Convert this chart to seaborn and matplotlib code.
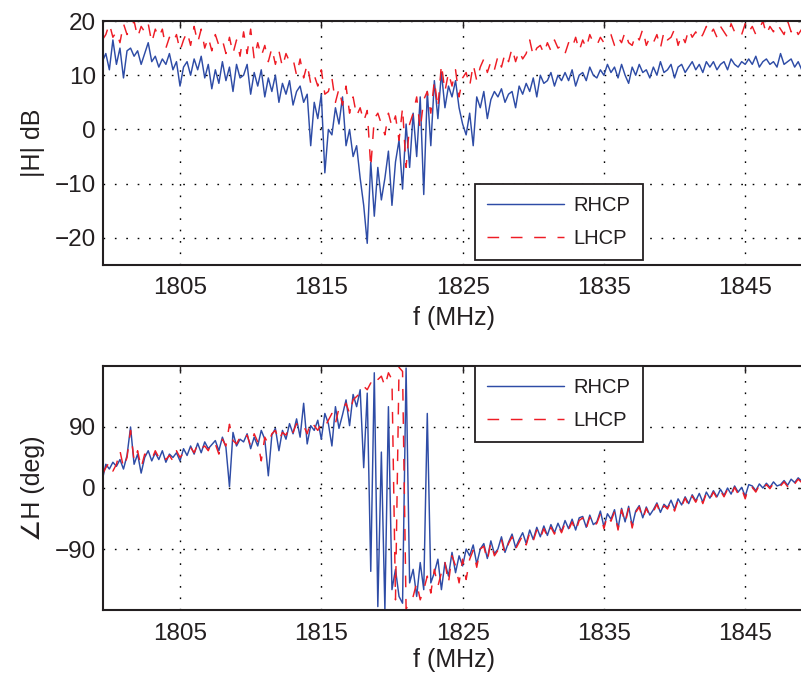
import numpy as np
import pandas as pd
import matplotlib
matplotlib.use("Agg")
import matplotlib.pyplot as plt
import seaborn as sns

# ---------------- data ----------------
f_start = 1799.5
f_step = 0.25

rhcp_mag = [
    12.5, 14, 11, 16.5,   12, 15, 9.5, 14.5,   15, 13.5, 14.5, 12,   14, 16, 12.5, 13.5,
    11.5, 13, 12, 14,     11, 12.5, 8, 11.5,   12.5, 10, 13, 11,     13.5, 9.5, 12, 7.5,
    11, 8.5, 12.5, 9,     11.5, 7, 12, 9.5,    10, 12, 6.5, 10.5,    8, 11, 6, 9.5,
    7, 10, 5, 8.5,        6.5, 9, 4.5, 7,      8, 5, 6.5, -3,        5, 2, 6.5, -8,
    0, -1, 4, 1,          6, -3, 0, -5,        -3, -9, -14, -21,     -6, -16, -7, -13,
    -9, -4, -14, -6,      -2, -11, 1, -7,      3, -5, 6, -12,        7, -3, 9, 2,
    10.5, 4, 8, 6,        9, 4, 1, -1,         3, -3, 6, 4,          7, 2, 5.5, 7,
    6, 7.5, 5, 6.5,       7, 4, 8, 6.5,        8.5, 7, 9.5, 6,       10, 8.5, 9, 10.5,
    8, 10, 9, 10.5,       9, 11, 8, 10,        10.5, 9, 11.5, 10,    9.5, 11, 10, 12,
    10.5, 11.5, 9.5, 12,  10, 8.5, 11.5, 10,   12, 10.5, 11, 9.5,    11.5, 10, 12.5, 10.5,
    11, 12, 9.5, 11.5,    12, 10.5, 11.5, 12.5, 11, 12, 10.5, 12.5,  11.5, 12.5, 11, 12,
    12.5, 11, 13, 12,     11.5, 12.5, 12, 13,  12, 13.5, 11.5, 12.5, 13, 12, 12.5, 11.5,
    14, 12, 12.5, 13,     11.5, 12.5, 11, 11.5,
]

lhcp_mag = [
    16.5, 17.5, 19.5, 17, 18, 16, 19.5, 17.5, 18.5, 20, 17, 19,      18, 19.5, 16, 18.5,
    17, 18.5, 15, 17,     16, 17.5, 14.5, 16.5, 18, 15.5, 19, 16,    18.5, 15, 17, 14.5,
    17.5, 15.5, 16.5, 14, 17, 14, 16.5, 13.5, 18, 14, 18.5, 13,      16, 13.5, 15.5, 12.5,
    15, 12, 14.5, 11.5,   14, 12.5, 13, 10,   13, 9.5, 12, 8.5,      10, 8, 11, 6.5,
    7, 9.5, 5, 7.5,       4.5, 8, 3, 6,       2.5, 4, 1.5, 3.5,      -7, 2, 3, 1,
    -1, 3, 0.5, 2.5,      -2, 4, -7, 1,       3, 6, 0, 5.5,          7, 3, 9, 4,
    12, 7, 10.5, 8,       11, 6, 9.5, 10.5,   8, 12, 9, 11.5,        13, 10.5, 12.5, 11,
    13.5, 11.5, 14, 12.5, 15, 12.5, 14.5, 13, 14, 16.5, 13.5, 15,    15.5, 14, 16, 14.5,
    16.5, 15, 15.5, 14,   16, 15, 17, 14.5,   16.5, 15, 17.5, 16,    15.5, 17, 16, 16.5,
    17.5, 15.5, 17, 16,   18, 16, 15.5, 17.5, 16.5, 18.5, 15.5, 17,  16, 17.5, 15, 18,
    16.5, 17, 18.5, 15.5, 17.5, 16, 18.5, 17, 18, 16.5, 17.5, 19,    17.5, 18.5, 17, 19,
    18, 17, 19.5, 18,     18.5, 17.5, 19.5, 18, 19, 17.5, 18.5, 20,  17.5, 19, 18, 19.5,
    18.5, 17.5, 20, 18,   19, 17.5, 18.5, 19,
]

rhcp_phase = [
    12, 35, 28, 38,       32, 42, 28, 48,     90, 35, 50, 22,        45, 55, 40, 52,
    42, 55, 38, 50,       45, 52, 40, 58,     48, 62, 50, 66,        52, 68, 58, 64,
    70, 55, 75, 60,       2, 82, 62, 72,      68, 80, 58, 75,        62, 85, 72, 18,
    78, 88, 55, 85,       72, 95, 80, 102,    75, 125, 65, 92,       85, 100, 72, 110,
    95, 62, 120, 88,      108, 130, 92, 138,  120, 145, 30, 140,     -123, 170, -175, 53,
    -180, 120, -150, -120, -160, -170, 177, -140, -120, -160, -110, -150, 110, -140, -125, -105,
    -150, -110, -130, -95, -125, -100, -115, -90, -100, -84, -112, -90, -82, -104, -78, -97,
    -90, -72, -95, -80,   -68, -88, -76, -66, -82, -62, -76, -58,    -72, -56, -70, -54,
    -66, -52, -64, -48,   -60, -46, -62, -44, -42, -58, -40, -54,    -50, -34, -57, -38,
    -46, -32, -60, -30,   -50, -27, -56, -34, -26, -44, -28, -40,    -32, -22, -36, -24,
    -29, -18, -31, -16,   -25, -13, -23, -10, -19, -8, -21, -6,      -15, -4, -13, -2,
    -11, 0, -9, 3,        -6, 1, -12, 5,      3, -4, 6, 0,           7, 1, 9, 3,
    5, 11, 4, 13,         8, 15, 10, 16,
]

lhcp_phase = [
    20, 30, 38, 25,       35, 55, 30, 45,     85, 40, 55, 30,        50, 48, 42, 55,
    45, 50, 42, 48,       40, 55, 45, 52,     55, 60, 52, 65,        58, 62, 55, 68,
    65, 50, 72, 62,       94, 70, 65, 75,     70, 78, 62, 80,        68, 40, 75, 65,
    80, 85, 70, 82,       78, 90, 82, 95,     88, 92, 80, 98,        92, 85, 95, 90,
    100, 110, 95, 118,    115, 125, 110, 130, 135, 140, 150, 145,    155, 150, 160, 165,
    150, 170, 160, -165,  178, 172, -178, -172, -160, -140, -165, -150, -130, -155, -120, -145,
    -125, -110, -140, -100, -115, -140, -105, -135, -105, -92, -117, -90, -86, -107, -80, -100,
    -92, -76, -97, -82,   -72, -90, -80, -70, -84, -66, -78, -62,    -74, -60, -72, -58,
    -68, -55, -66, -52,   -62, -50, -64, -48, -44, -60, -43, -57,    -52, -38, -60, -40,
    -49, -35, -62, -32,   -52, -30, -59, -36, -28, -46, -30, -42,    -35, -24, -38, -26,
    -31, -20, -34, -18,   -27, -15, -26, -12, -21, -10, -23, -8,     -17, -6, -15, -4,
    -13, -2, -11, 1,      -9, -1, -16, 3,     1, -6, 4, -2,          5, -1, 7, 1,
    3, 9, 2, 11,          6, 13, 8, 14,
]

x_ticks = [1805, 1815, 1825, 1835, 1845]
mag_ticks = [-20, -10, 0, 10, 20]
phase_ticks = [-90, 0, 90]
series_names = ["RHCP", "LHCP"]

freq = f_start + f_step * np.arange(len(rhcp_mag))

# ---------------- styling ----------------
sns.set_theme(style="white")
plt.rcParams["font.family"] = ["Liberation Sans", "DejaVu Sans"]
TXT = "#231f20"
BLUE = "#2e4ca6"
RED = "#ee1c25"

fig = plt.figure(figsize=(8.01, 6.81), dpi=100)
W, H = 801.0, 681.0
ax_left = 103 / W
ax_w = 702 / W
ax1 = fig.add_axes([ax_left, (H - 265) / H, ax_w, 244 / H])
ax2 = fig.add_axes([ax_left, (H - 610) / H, ax_w, 244 / H])

xlim = (1799.55, 1799.55 + 702 / 14.13)

def draw(ax, yb, yr, ylim, yticks, ylabel, legend_anchor):
    df = pd.DataFrame({"f": freq, "b": yb, "r": yr})
    sns.lineplot(data=df, x="f", y="b", ax=ax, color=BLUE, linewidth=1.05,
                 estimator=None, sort=False, label=series_names[0])
    sns.lineplot(data=df, x="f", y="r", ax=ax, color=RED, linewidth=1.05,
                 estimator=None, sort=False, label=series_names[1],
                 linestyle=(0, (8, 8)))
    ax.set_xlim(*xlim)
    ax.set_ylim(*ylim)
    ax.set_xticks(x_ticks)
    ax.set_yticks(yticks)
    ax.set_yticklabels([str(t).replace("-", "\u2212") for t in yticks])
    ax.grid(True, color="black", linestyle=(0, (1.2, 7)), linewidth=1.0)
    ax.tick_params(direction="in", length=5, width=1.0, top=True, right=True,
                   labelsize=17.5, colors=TXT)
    ax.tick_params(axis="x", pad=9)
    ax.tick_params(axis="y", pad=5)
    for s in ax.spines.values():
        s.set_color(TXT)
        s.set_linewidth(1.5)
        s.set_visible(True)
    ax.set_xlabel("f (MHz)", fontsize=18, color=TXT)
    ax.set_ylabel(ylabel, fontsize=18, color=TXT)
    ax.yaxis.set_label_coords(-0.082, 0.5)
    leg = ax.legend(loc="upper left", bbox_to_anchor=legend_anchor,
                    fontsize=14.5, frameon=True, fancybox=False, framealpha=1,
                    edgecolor=TXT, handlelength=3.8, handletextpad=0.5,
                    borderpad=0.6, labelspacing=0.7, borderaxespad=0)
    leg.get_frame().set_linewidth(1.3)
    for t in leg.get_texts():
        t.set_color(TXT)
    return ax

draw(ax1, rhcp_mag, lhcp_mag, (-25, 20), mag_ticks, "|H| dB", (0.53, 0.332))
draw(ax2, rhcp_phase, lhcp_phase, (-180, 180), phase_ticks, "\u2220H (deg)", (0.53, 1.0))
ax1.xaxis.set_label_coords(0.5, -0.17)
ax2.xaxis.set_label_coords(0.5, -0.155)

fig.savefig("out.png", dpi=100)
